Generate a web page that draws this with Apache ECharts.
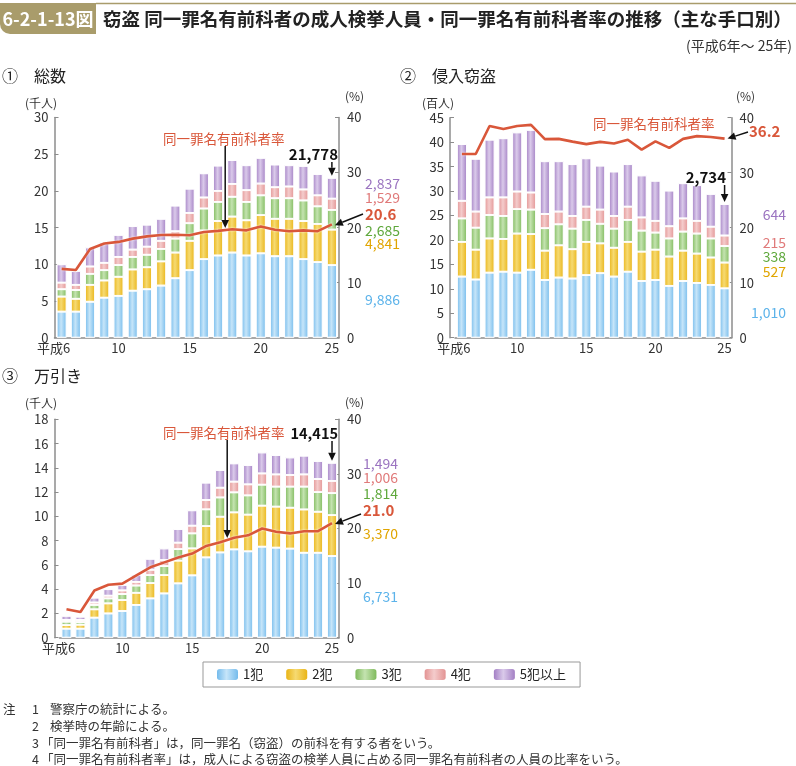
<!DOCTYPE html>
<html><head><meta charset="utf-8">
<script src="https://cdn.jsdelivr.net/npm/echarts@6/dist/echarts.min.js"></script>
<style>html,body{margin:0;padding:0;background:#fff}#c{width:796px;height:766px}</style>
</head><body><div id="c"></div>
<script>
// ---------- data ----------
const years = ['平成6','7','8','9','10','11','12','13','14','15','16','17','18','19','20','21','22','23','24','25'];
const seriesNames = ['1犯','2犯','3犯','4犯','5犯以上'];
const rateName = '同一罪名有前科者率';

// ① 総数 (千人)
const total_1han = [3.55,3.55,4.9,5.45,5.7,6.4,6.6,7.1,8.1,9.2,10.7,11.2,11.6,11.2,11.5,11.1,11.1,10.7,10.3,9.886];
const total_2han = [2.05,1.75,2.3,2.35,2.6,2.9,3.0,3.3,3.5,4.0,3.9,4.7,4.9,4.8,5.2,5.1,5.1,5.2,5.2,4.841];
const total_3han = [1.0,1.2,1.5,1.4,1.6,1.7,1.7,1.7,1.9,2.4,3.0,2.6,2.7,2.5,2.7,2.8,2.8,2.8,2.4,2.685];
const total_4han = [0.9,0.7,1.0,1.0,1.1,1.0,1.1,1.1,1.0,1.4,1.5,1.5,1.75,1.6,1.6,1.5,1.6,1.5,1.5,1.529];
const total_5han = [2.5,1.9,2.6,2.8,3.0,3.2,3.0,3.0,3.5,3.3,3.3,3.45,3.25,3.4,3.5,3.1,2.9,3.2,2.9,2.837];
const total_rate = [12.5,12.3,16.1,17.1,17.4,18.0,18.4,18.65,18.7,18.6,19.2,19.4,19.7,19.5,20.2,19.6,19.35,19.5,19.35,20.6];

// ② 侵入窃盗 (百人)
const burg_1han = [12.5,11.9,13.3,13.5,13.3,13.9,11.8,12.3,12.1,12.8,13.2,12.5,13.5,11.6,11.8,10.6,11.6,11.2,10.8,10.10];
const burg_2han = [7.1,6.1,7.0,6.7,8.0,7.3,6.0,6.6,6.0,6.8,6.1,5.9,6.1,6.0,6.2,6.0,6.2,6.0,5.6,5.27];
const burg_3han = [4.8,4.5,4.8,4.7,5.0,5.0,4.6,4.3,4.2,4.5,4.0,3.9,4.5,4.3,3.5,3.7,3.9,4.1,3.9,3.38];
const burg_4han = [3.6,3.3,3.6,3.8,3.6,3.5,2.9,2.6,2.6,2.7,2.9,2.6,2.7,2.7,2.4,2.5,2.7,2.6,2.4,2.15];
const burg_5han = [11.6,10.8,11.8,12.1,12.1,12.8,10.8,10.3,10.6,9.9,9.0,9.1,8.7,8.6,8.2,7.3,7.2,7.3,6.7,6.44];
const burg_rate = [33.4,33.4,38.5,37.95,38.5,38.7,36.1,36.15,35.65,35.2,35.6,35.3,36.0,34.2,35.7,34.5,36.15,36.65,36.5,36.2];

// ③ 万引き (千人)
const shop_1han = [0.74,0.74,1.65,2.0,2.2,2.7,3.24,3.65,4.48,5.14,6.62,7.03,7.28,7.12,7.5,7.42,7.34,7.0,7.0,6.731];
const shop_2han = [0.30,0.33,0.69,0.83,0.9,1.0,1.26,1.51,1.87,2.22,2.58,2.94,3.05,3.02,3.38,3.38,3.37,3.57,3.38,3.370];
const shop_3han = [0.28,0.22,0.36,0.41,0.5,0.6,0.66,0.74,0.95,1.24,1.38,1.59,1.65,1.59,1.73,1.65,1.74,1.88,1.62,1.814];
const shop_4han = [0.14,0.17,0.2,0.22,0.3,0.3,0.44,0.5,0.53,0.63,0.77,0.8,0.88,0.91,0.93,1.01,0.96,1.01,1.08,1.006];
const shop_5han = [0.34,0.27,0.4,0.54,0.45,0.6,0.9,0.96,1.12,1.27,1.43,1.46,1.51,1.59,1.73,1.59,1.45,1.54,1.48,1.494];
const shop_rate = [5.2,4.7,8.65,9.7,9.9,11.4,12.9,13.8,14.7,15.4,16.8,17.5,18.3,18.75,20.0,19.4,19.1,19.5,19.5,21.0];

// ---------- styling ----------
const FONT = '"Noto Sans CJK JP","Noto Sans",sans-serif';
const edge = ['#74bbec','#e9b416','#7fba5c','#e39393','#a37fc4'];
const mid  = ['#c6e5f9','#f6da72','#c4e3b0','#f4cccc','#dacaea'];
const txtCol = ['#5cb3ea','#e0a500','#5fa83c','#e07a7a','#9b74c0'];
const RED = '#d9573a';
function grad(i){
  return new echarts.graphic.LinearGradient(0,0,1,0,[
    {offset:0,color:edge[i]},{offset:0.45,color:mid[i]},{offset:1,color:edge[i]}]);
}
const AX = '#8c8c8c';

const grids = [
  {left:54.5, top:117.5, width:284.5, height:220.2},
  {left:455,  top:117.7, width:276.5, height:220},
  {left:59.5, top:419.3, width:279.5, height:218.4}
];
const leftMax = [30,45,18], leftInt = [5,5,2], leftOff = [0,5,5];

const xAxes = grids.map((g,i)=>({
  type:'category', gridIndex:i, data:years, boundaryGap:true,
  axisLine:{show:true,lineStyle:{color:AX,width:1.5}},
  axisTick:{show:false},
  axisLabel:{
    interval:(idx)=>[0,4,9,14,19].includes(idx),
    color:'#333', fontSize:13, fontFamily:FONT, margin:4,
    formatter:(v,idx)=> idx===0 ? '{f|'+v+'}' : v,
    rich:{f:{fontSize:13,fontFamily:FONT,color:'#333',padding:[0,16,0,0]}}
  }
}));
const yAxes = [];
grids.forEach((g,i)=>{
  yAxes.push({type:'value', gridIndex:i, position:'left', min:0, max:leftMax[i], interval:leftInt[i], offset:leftOff[i],
    axisLine:{show:true,lineStyle:{color:AX,width:1.5}},
    axisTick:{show:true,inside:true,length:4,lineStyle:{color:AX}},
    axisLabel:{color:'#333',fontSize:13,fontFamily:FONT,margin:6},
    splitLine:{show:false}});
  yAxes.push({type:'value', gridIndex:i, position:'right', min:0, max:40, interval:10,
    axisLine:{show:true,lineStyle:{color:AX,width:1.5}},
    axisTick:{show:true,inside:true,length:4,lineStyle:{color:AX}},
    axisLabel:{color:'#333',fontSize:13,fontFamily:FONT,margin:8},
    splitLine:{show:false}});
});

const panels = [
  [total_1han,total_2han,total_3han,total_4han,total_5han,total_rate],
  [burg_1han,burg_2han,burg_3han,burg_4han,burg_5han,burg_rate],
  [shop_1han,shop_2han,shop_3han,shop_4han,shop_5han,shop_rate]
];
const series = [];
panels.forEach((p,pi)=>{
  for(let k=0;k<5;k++){
    series.push({type:'bar', name:seriesNames[k], stack:'s'+pi, xAxisIndex:pi, yAxisIndex:pi*2,
      data:p[k], barWidth:10,
      itemStyle:{color:grad(k), borderColor:'#fff', borderWidth:0.8},
      emphasis:{disabled:true}, animation:false});
  }
  series.push({type:'line', name:rateName, xAxisIndex:pi, yAxisIndex:pi*2+1, data:p[5],
    symbol:'none', z:5, lineStyle:{color:RED,width:2.6,shadowColor:'rgba(255,255,255,0.9)',shadowBlur:2},
    animation:false});
});

function T(x,y,text,opt){
  return {type:'text', x, y, silent:true, z:20,
    style:Object.assign({text, fill:'#222', font:'13px '+FONT, textVerticalAlign:'middle', textAlign:'left'},opt||{})};
}

const staticG = [
  {type:'rect', shape:{x:0,y:3,width:96,height:31,r:[0,0,0,10]}, style:{fill:'#a99c6b'}},
  {type:'line', shape:{x1:96,y1:3.5,x2:796,y2:3.5}, style:{stroke:'#a99c6b',lineWidth:1.5}},
  T(48,19,'6-2-1-13図',{fill:'#fff',font:'bold 18px '+FONT,textAlign:'center'}),
  T(103,19,'窃盗 同一罪名有前科者の成人検挙人員・同一罪名有前科者率の推移（主な手口別）',{font:'bold 18.5px '+FONT,fill:'#222'}),
  T(792,46,'(平成6年～ 25年)',{font:'14px '+FONT,textAlign:'right',fill:'#333'}),
  // panel titles
  T(2,76,'①',{font:'16px '+FONT}), T(34,76,'総数',{font:'16px '+FONT}),
  T(400,76,'②',{font:'16px '+FONT}), T(432,76,'侵入窃盗',{font:'16px '+FONT}),
  T(2,376,'③',{font:'16px '+FONT}), T(34,376,'万引き',{font:'16px '+FONT}),
  // units
  T(25,103,'(千人)',{font:'12px '+FONT,fill:'#333'}), T(345,96,'(%)',{font:'12px '+FONT,fill:'#333'}),
  T(422,103,'(百人)',{font:'12px '+FONT,fill:'#333'}), T(736,96,'(%)',{font:'12px '+FONT,fill:'#333'}),
  T(25,403,'(千人)',{font:'12px '+FONT,fill:'#333'}), T(345,402,'(%)',{font:'12px '+FONT,fill:'#333'}),
  // rate captions
  T(163,139,rateName,{font:'13.5px '+FONT,fill:RED}),
  T(593,124,rateName,{font:'13.5px '+FONT,fill:RED}),
  T(163,433,rateName,{font:'13.5px '+FONT,fill:RED}),
  // totals
  T(338,154,'21,778',{font:'bold 15px '+FONT,textAlign:'right',fill:'#111'}),
  T(726,177,'2,734',{font:'bold 15px '+FONT,textAlign:'right',fill:'#111'}),
  T(338,433,'14,415',{font:'bold 14.5px '+FONT,textAlign:'right',fill:'#111'}),
  // panel 1 end values
  T(365,184,'2,837',{font:'14px '+FONT,fill:txtCol[4]}),
  T(365,198,'1,529',{font:'14px '+FONT,fill:txtCol[3]}),
  T(365,214,'20.6',{font:'bold 15px '+FONT,fill:RED}),
  T(365,231,'2,685',{font:'14px '+FONT,fill:txtCol[2]}),
  T(365,244,'4,841',{font:'14px '+FONT,fill:txtCol[1]}),
  T(365,300,'9,886',{font:'14px '+FONT,fill:txtCol[0]}),
  // panel 2 end values
  T(749,131,'36.2',{font:'bold 15px '+FONT,fill:RED}),
  T(786,215,'644',{font:'14px '+FONT,fill:txtCol[4],textAlign:'right'}),
  T(786,243,'215',{font:'14px '+FONT,fill:txtCol[3],textAlign:'right'}),
  T(786,257,'338',{font:'14px '+FONT,fill:txtCol[2],textAlign:'right'}),
  T(786,272,'527',{font:'14px '+FONT,fill:txtCol[1],textAlign:'right'}),
  T(786,313,'1,010',{font:'14px '+FONT,fill:txtCol[0],textAlign:'right'}),
  // panel 3 end values
  T(363,464,'1,494',{font:'14px '+FONT,fill:txtCol[4]}),
  T(363,478,'1,006',{font:'14px '+FONT,fill:txtCol[3]}),
  T(363,494,'1,814',{font:'14px '+FONT,fill:txtCol[2]}),
  T(363,510,'21.0',{font:'bold 15px '+FONT,fill:RED}),
  T(363,534,'3,370',{font:'14px '+FONT,fill:txtCol[1]}),
  T(363,597,'6,731',{font:'14px '+FONT,fill:txtCol[0]}),
  // notes
  T(3,709,'注',{font:'12.5px '+FONT,fill:'#333'}),
  T(32,709,'1',{font:'12.5px '+FONT,fill:'#333'}), T(50,709,'警察庁の統計による。',{font:'12.5px '+FONT,fill:'#333'}),
  T(32,726,'2',{font:'12.5px '+FONT,fill:'#333'}), T(50,726,'検挙時の年齢による。',{font:'12.5px '+FONT,fill:'#333'}),
  T(32,743,'3',{font:'12.5px '+FONT,fill:'#333'}), T(41,743,'「同一罪名有前科者」は，同一罪名（窃盗）の前科を有する者をいう。',{font:'12.5px '+FONT,fill:'#333'}),
  T(32,759,'4',{font:'12.5px '+FONT,fill:'#333'}), T(41,759,'「同一罪名有前科者率」は，成人による窃盗の検挙人員に占める同一罪名有前科者の人員の比率をいう。',{font:'12.5px '+FONT,fill:'#333'})
];

const chart = echarts.init(document.getElementById('c'), null, {renderer:'canvas'});
chart.setOption({
  backgroundColor:'#fff',
  animation:false,
  textStyle:{fontFamily:FONT},
  grid:grids,
  xAxis:xAxes,
  yAxis:yAxes,
  legend:{data:seriesNames, left:203, top:662, orient:'horizontal',
    padding:[6,14,6,14], itemGap:23, itemWidth:21, itemHeight:11,
    borderColor:'#999', borderWidth:1, borderRadius:0,
    itemStyle:{borderWidth:0},
    textStyle:{color:'#222',fontSize:13,fontFamily:FONT}, selectedMode:false},
  series:series,
  graphic:staticG
});

// ---------- arrows computed from data positions ----------
function arrow(x1,y1,x2,y2,color){
  const dx=x2-x1, dy=y2-y1, L=Math.hypot(dx,dy), ux=dx/L, uy=dy/L;
  const hl=8, hw=3.8;
  const bx=x2-ux*hl, by=y2-uy*hl;
  return [
    {type:'line', silent:true, z:21, shape:{x1,y1,x2:bx,y2:by}, style:{stroke:color,lineWidth:1.5}},
    {type:'polygon', silent:true, z:21, shape:{points:[[x2,y2],[bx-uy*hw,by+ux*hw],[bx+uy*hw,by-ux*hw]]}, style:{fill:color}}
  ];
}
const px = (pi,idx,val,axis)=> chart.convertToPixel({xAxisIndex:pi,yAxisIndex:pi*2+axis},[idx,val]);
const sumAt = (p,idx)=> p[0][idx]+p[1][idx]+p[2][idx]+p[3][idx]+p[4][idx];
const arr = [];
const last = 19;
[[0,162],[1,185],[2,441]].forEach(([pi,ystart])=>{
  const top = px(pi,last,sumAt(panels[pi],last),0);
  arr.push(...arrow(top[0],ystart,top[0],top[1]-2,'#111'));
});
[[0,146],[2,440]].forEach(([pi,ystart])=>{
  const a = px(pi,11,panels[pi][5][11],1), b = px(pi,12,panels[pi][5][12],1);
  const x = (a[0]+b[0])/2, y=(a[1]+b[1])/2;
  arr.push(...arrow(x,ystart,x,y-2,'#111'));
});
{
  const e = px(0,last,panels[0][5][last],1); arr.push(...arrow(363,214,e[0]+3,e[1]+1,'#111'));
  const e2 = px(1,last,panels[1][5][last],1); arr.push(...arrow(748,132,e2[0]+3,e2[1],'#111'));
  const e3 = px(2,last,panels[2][5][last],1); arr.push(...arrow(361,514,e3[0]+3,e3[1]+1,'#111'));
}
chart.setOption({graphic:staticG.concat(arr)});
</script></body></html>
